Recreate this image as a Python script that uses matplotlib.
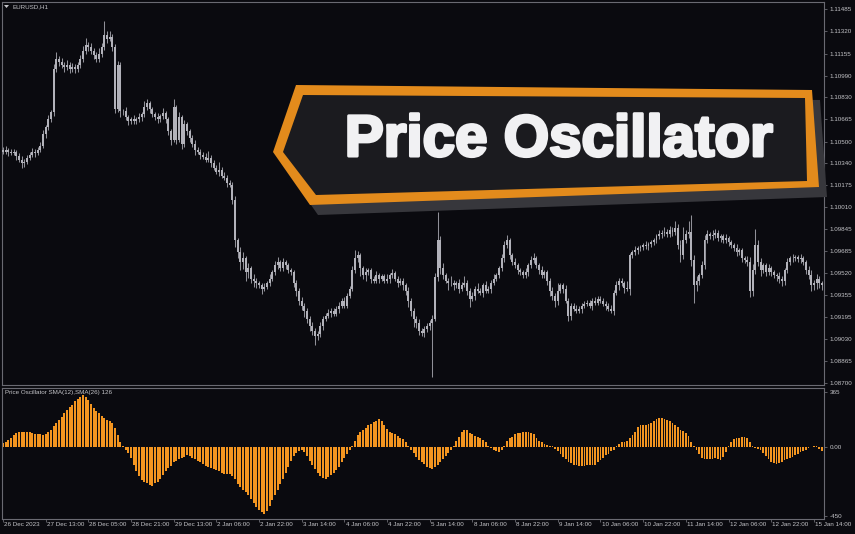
import matplotlib
matplotlib.use("Agg")
import matplotlib.pyplot as plt
from matplotlib.patches import Polygon
import matplotlib.patheffects as pe
import numpy as np

plt.rcParams['font.family'] = ['Liberation Sans', 'DejaVu Sans']

# ---------------- data ----------------
symbol_label = "EURUSD,H1"
osc_label = "Price Oscillator SMA(12),SMA(26) 126"
banner_text = "Price Oscillator"

first_open = 1.10440
closes = [
    1.10425, 1.10440, 1.10425, 1.10418, 1.10425, 1.10395, 1.10365, 1.10343, 1.10350, 1.10380,
    1.10403, 1.10425, 1.10418, 1.10440, 1.10470, 1.10553, 1.10605, 1.10665, 1.10718, 1.11040,
    1.11115, 1.11093, 1.11070, 1.11055, 1.11070, 1.11040, 1.11055, 1.11040, 1.11070, 1.11115,
    1.11175, 1.11220, 1.11205, 1.11175, 1.11145, 1.11115, 1.11153, 1.11205, 1.11295, 1.11265,
    1.11280, 1.11205, 1.10740, 1.11070, 1.10725, 1.10725, 1.10680, 1.10650, 1.10665, 1.10650,
    1.10665, 1.10680, 1.10703, 1.10755, 1.10785, 1.10740, 1.10703, 1.10680, 1.10665, 1.10688,
    1.10710, 1.10665, 1.10575, 1.10515, 1.10755, 1.10515, 1.10680, 1.10478, 1.10628, 1.10575,
    1.10530, 1.10478, 1.10440, 1.10425, 1.10400, 1.10388, 1.10365, 1.10380, 1.10343, 1.10305,
    1.10275, 1.10290, 1.10245, 1.10230, 1.10193, 1.10178, 1.10065, 1.09765, 1.09675, 1.09600,
    1.09630, 1.09525, 1.09555, 1.09480, 1.09465, 1.09443, 1.09428, 1.09405, 1.09420, 1.09443,
    1.09480, 1.09525, 1.09578, 1.09600, 1.09555, 1.09600, 1.09578, 1.09540, 1.09525, 1.09450,
    1.09390, 1.09315, 1.09278, 1.09240, 1.09180, 1.09128, 1.09090, 1.09053, 1.09068, 1.09128,
    1.09180, 1.09203, 1.09225, 1.09240, 1.09218, 1.09255, 1.09278, 1.09315, 1.09278, 1.09353,
    1.09405, 1.09540, 1.09630, 1.09653, 1.09555, 1.09503, 1.09525, 1.09540, 1.09480, 1.09465,
    1.09503, 1.09480, 1.09495, 1.09465, 1.09480, 1.09503, 1.09518, 1.09480, 1.09450, 1.09465,
    1.09428, 1.09390, 1.09315, 1.09240, 1.09180, 1.09150, 1.09090, 1.09075, 1.09105, 1.09128,
    1.09150, 1.09180, 1.09488, 1.09765, 1.09555, 1.09503, 1.09465, 1.09443, 1.09450, 1.09428,
    1.09443, 1.09405, 1.09435, 1.09450, 1.09390, 1.09330, 1.09353, 1.09405, 1.09390, 1.09375,
    1.09428, 1.09390, 1.09405, 1.09450, 1.09480, 1.09503, 1.09555, 1.09630, 1.09728, 1.09765,
    1.09653, 1.09600, 1.09578, 1.09540, 1.09525, 1.09503, 1.09525, 1.09578, 1.09615, 1.09630,
    1.09578, 1.09540, 1.09503, 1.09525, 1.09465, 1.09390, 1.09353, 1.09315, 1.09390, 1.09428,
    1.09405, 1.09315, 1.09203, 1.09278, 1.09255, 1.09240, 1.09255, 1.09278, 1.09293, 1.09300,
    1.09278, 1.09315, 1.09300, 1.09330, 1.09315, 1.09293, 1.09278, 1.09255, 1.09240, 1.09375,
    1.09428, 1.09465, 1.09443, 1.09413, 1.09405, 1.09653, 1.09675, 1.09690, 1.09705, 1.09713,
    1.09728, 1.09720, 1.09735, 1.09750, 1.09765, 1.09795, 1.09810, 1.09818, 1.09825, 1.09810,
    1.09840, 1.09825, 1.09855, 1.09728, 1.09653, 1.09765, 1.09810, 1.09825, 1.09615, 1.09428,
    1.09465, 1.09503, 1.09578, 1.09765, 1.09810, 1.09795, 1.09803, 1.09818, 1.09780, 1.09795,
    1.09765, 1.09780, 1.09750, 1.09728, 1.09705, 1.09675, 1.09690, 1.09630, 1.09615, 1.09600,
    1.09390, 1.09540, 1.09728, 1.09600, 1.09540, 1.09578, 1.09525, 1.09555, 1.09525, 1.09503,
    1.09495, 1.09480, 1.09465, 1.09540, 1.09600, 1.09630, 1.09630, 1.09638, 1.09623, 1.09630,
    1.09600, 1.09540, 1.09503, 1.09428, 1.09450, 1.09480, 1.09443, 1.09428,
]

# wick lengths beyond the body, in pips
wick_up = [
    2, 3, 1, 2, 2, 1, 2, 3, 2, 2,   2, 3, 2, 2, 3, 3, 2, 3, 2, 4,
    5, 2, 3, 2, 4, 2, 3, 2, 2, 3,   4, 5, 2, 3, 2, 2, 4, 3, 10, 3,
    4, 2, 2, 3, 2, 2, 3, 2, 2, 3,   2, 3, 2, 5, 3, 2, 2, 2, 3, 2,
    4, 2, 2, 2, 6, 2, 4, 2, 3, 2,   2, 2, 3, 2, 2, 2, 3, 5, 2, 2,
    2, 6, 2, 3, 2, 2, 2, 3, 2, 4,   5, 2, 4, 2, 3, 2, 2, 2, 3, 2,
    3, 2, 3, 4, 2, 3, 2, 2, 2, 2,   2, 2, 3, 2, 2, 2, 3, 2, 2, 3,
    2, 2, 3, 2, 2, 2, 3, 2, 3, 2,   2, 3, 6, 3, 2, 2, 3, 2, 2, 2,
    3, 2, 2, 2, 3, 2, 3, 2, 2, 2,   2, 2, 3, 2, 2, 2, 3, 2, 2, 2,
    2, 3, 3, 21, 3, 4, 2, 2, 5, 2,  2, 3, 2, 5, 2, 2, 3, 2, 4, 2,
    2, 3, 2, 2, 3, 2, 2, 3, 3, 4,   2, 2, 3, 2, 2, 2, 3, 2, 3, 4,
    2, 2, 3, 2, 2, 2, 3, 2, 6, 2,   2, 3, 2, 2, 2, 3, 2, 2, 2, 2,
    2, 2, 3, 2, 2, 2, 2, 2, 3, 2,   3, 2, 2, 2, 5, 2, 2, 3, 2, 2,
    2, 3, 2, 2, 2, 2, 3, 2, 4, 2,   3, 2, 5, 3, 4, 10, 3, 8, 13, 4,
    3, 2, 3, 4, 3, 2, 4, 3, 2, 2,   2, 3, 2, 2, 2, 3, 2, 2, 2, 3,
    4, 5, 12, 4, 3, 2, 2, 3, 2, 2,  2, 3, 2, 2, 3, 2, 3, 2, 2, 3,
    2, 2, 3, 4, 2, 3, 2, 2,
]
wick_dn = [
    2, 2, 3, 2, 2, 3, 2, 4, 3, 2,   2, 2, 3, 2, 2, 2, 3, 2, 2, 3,
    2, 3, 2, 4, 2, 3, 2, 3, 2, 2,   2, 2, 3, 2, 3, 2, 2, 2, 2, 3,
    2, 3, 3, 2, 4, 3, 2, 3, 2, 2,   2, 2, 3, 2, 2, 3, 2, 2, 3, 2,
    2, 3, 3, 4, 2, 3, 2, 3, 2, 3,   3, 2, 4, 2, 3, 2, 2, 2, 3, 2,
    2, 3, 2, 2, 3, 2, 3, 5, 4, 6,   5, 6, 4, 3, 5, 3, 2, 4, 2, 2,
    2, 2, 2, 3, 2, 2, 3, 2, 2, 3,   4, 3, 3, 5, 3, 4, 3, 7, 3, 2,
    3, 2, 2, 3, 2, 2, 3, 2, 2, 2,   2, 2, 2, 3, 6, 3, 4, 2, 3, 2,
    2, 3, 2, 2, 2, 3, 2, 2, 3, 2,   3, 3, 5, 4, 6, 4, 3, 2, 3, 2,
    3, 40, 2, 3, 4, 3, 2, 5, 2, 3,  2, 3, 2, 2, 3, 6, 2, 3, 2, 2,
    3, 2, 2, 3, 2, 2, 2, 2, 3, 2,   3, 2, 2, 3, 2, 2, 2, 3, 2, 2,
    2, 3, 2, 2, 3, 4, 3, 5, 3, 2,   3, 2, 4, 3, 2, 2, 2, 3, 2, 2,
    2, 3, 2, 2, 2, 2, 3, 2, 2, 3,   2, 3, 2, 4, 2, 5, 2, 2, 3, 2,
    2, 2, 3, 2, 2, 2, 2, 3, 2, 2,   2, 3, 2, 3, 5, 3, 2, 3, 4, 13,
    4, 3, 2, 3, 2, 2, 3, 2, 2, 3,   2, 2, 3, 2, 2, 3, 2, 3, 2, 3,
    5, 4, 3, 3, 4, 2, 3, 2, 3, 2,   3, 3, 4, 3, 2, 2, 3, 2, 2, 3,
    2, 3, 3, 4, 3, 5, 3, 3,
]

osc_values = [
    26, 32, 48, 63, 79, 93, 98, 101, 102, 101,
    97, 90, 87, 84, 84, 82, 87, 100, 116, 137,
    160, 180, 201, 222, 243, 264, 280, 301, 317, 333,
    343, 333, 312, 285, 259, 238, 222, 206, 190, 180,
    169, 158, 127, 79, 32, 11, -16, -37, -74, -116,
    -158, -190, -216, -227, -238, -248, -253, -238, -227, -206,
    -180, -158, -137, -121, -100, -90, -79, -74, -63, -53,
    -58, -69, -79, -90, -100, -111, -121, -127, -135, -143,
    -153, -158, -169, -174, -174, -177, -190, -211, -243, -264,
    -280, -296, -317, -338, -364, -391, -412, -428, -438, -417,
    -385, -348, -317, -280, -243, -206, -169, -127, -90, -58,
    -37, -26, -21, -32, -58, -90, -116, -143, -169, -190,
    -201, -206, -195, -185, -169, -153, -127, -100, -74, -48,
    -21, 5, 42, 79, 100, 116, 127, 143, 153, 164,
    174, 182, 174, 148, 121, 100, 95, 84, 74, 63,
    53, 32, 5, -16, -37, -63, -84, -100, -111, -127,
    -137, -143, -132, -116, -95, -79, -58, -37, -16, 5,
    42, 69, 100, 116, 111, 95, 84, 74, 69, 58,
    48, 32, 11, -5, -16, -26, -32, -21, 11, 42,
    58, 69, 84, 90, 95, 100, 102, 100, 95, 84,
    63, 42, 32, 21, 16, 11, 5, -11, -26, -42,
    -63, -79, -95, -106, -116, -118, -125, -125, -121, -114,
    -116, -118, -114, -100, -84, -69, -53, -42, -26, -16,
    5, 21, 32, 37, 42, 58, 79, 100, 132, 143,
    146, 148, 153, 158, 169, 182, 190, 192, 188, 180,
    169, 158, 148, 132, 116, 106, 95, 74, 37, 5,
    -21, -48, -69, -79, -79, -76, -76, -74, -76, -82,
    -63, -32, 11, 37, 53, 63, 61, 69, 69, 63,
    37, 11, -5, -11, -21, -37, -58, -79, -95, -106,
    -111, -106, -95, -84, -79, -74, -63, -53, -42, -32,
    -26, -16, -8, 3, 8, 5, -11, -26,
]

price_ticks = [1.11485, 1.11320, 1.11155, 1.10990, 1.10830, 1.10665, 1.10500, 1.10340, 1.10175,
               1.10010, 1.09845, 1.09685, 1.09520, 1.09355, 1.09195, 1.09030, 1.08865, 1.08700]
osc_ticks = [365, 0, -450]
osc_tick_labels = ["365", "0.00", "-450"]
time_labels = ["26 Dec 2023", "27 Dec 13:00", "28 Dec 05:00", "28 Dec 21:00", "29 Dec 13:00",
               "2 Jan 06:00", "2 Jan 22:00", "3 Jan 14:00", "4 Jan 06:00", "4 Jan 22:00",
               "5 Jan 14:00", "8 Jan 06:00", "8 Jan 22:00", "9 Jan 14:00", "10 Jan 06:00",
               "10 Jan 22:00", "11 Jan 14:00", "12 Jan 06:00", "12 Jan 22:00", "15 Jan 14:00"]
time_label_bars = [0, 16, 32, 48, 64, 80, 96, 112, 128, 144,
                   160, 176, 192, 208, 224, 240, 256, 272, 288, 304]

# ---------------- style ----------------
W, H = 855, 534
BG = '#0a0a0f'
FRAME = '#6a6a72'
TXT = '#c4c4c8'
CANDLE = '#b2b2ba'
WICK = '#909098'
HIST = '#f39520'
FS = 4.5

fig = plt.figure(figsize=(W / 100, H / 100), dpi=100, facecolor=BG)


def box(l, t, r, b):
    return [l / W, 1 - b / H, (r - l) / W, (b - t) / H]


x = np.arange(len(closes))
c = np.array(closes)
o = np.array([first_open] + closes[:-1])
hi = np.maximum(o, c) + np.array(wick_up) * 1e-4
lo = np.minimum(o, c) - np.array(wick_dn) * 1e-4

# main price panel
ax = fig.add_axes(box(2, 2, 824, 385))
ax.set_facecolor(BG)
ax.vlines(x, lo, hi, color=WICK, lw=0.75, zorder=2)
ax.bar(x, np.maximum(np.abs(c - o), 0.00003), bottom=np.minimum(o, c), width=0.74,
       color=CANDLE, edgecolor='none', zorder=3)
ax.set_xlim(-0.375, 307.8)
ax.set_ylim(1.08687, 1.11539)
ax.set_yticks(price_ticks)
ax.set_yticklabels([f"{p:.5f}" for p in price_ticks])
ax.yaxis.tick_right()
ax.tick_params(axis='y', length=2.5, width=0.6, color=FRAME, labelsize=FS,
               labelcolor=TXT, pad=1.5)
ax.set_xticks([])
for s in ax.spines.values():
    s.set_color(FRAME)
    s.set_linewidth(0.8)

# oscillator panel
ax2 = fig.add_axes(box(2, 388, 824, 519))
ax2.set_facecolor(BG)
ax2.bar(x, osc_values, width=0.72, color=HIST, edgecolor='none')
ax2.set_xlim(-0.375, 307.8)
ax2.set_ylim(-472, 389)
ax2.set_yticks(osc_ticks)
ax2.set_yticklabels(osc_tick_labels)
ax2.yaxis.tick_right()
ax2.tick_params(axis='y', length=2.5, width=0.6, color=FRAME, labelsize=FS,
                labelcolor=TXT, pad=1.5)
ax2.set_xticks(time_label_bars)
ax2.set_xticklabels([])
ax2.tick_params(axis='x', length=2.5, width=0.6, color=FRAME)
for s in ax2.spines.values():
    s.set_color(FRAME)
    s.set_linewidth(0.8)
for b, lab in zip(time_label_bars, time_labels):
    ax2.annotate(lab, xy=(b, 0), xycoords=('data', 'axes fraction'),
                 xytext=(0.8, -2.2), textcoords='offset points',
                 ha='left', va='top', fontsize=FS, color=TXT)
ax2.text(0.004, 0.985, osc_label, transform=ax2.transAxes, ha='left', va='top',
         fontsize=FS, color=TXT)

# overlay (title + banner)
ov = fig.add_axes([0, 0, 1, 1])
ov.set_xlim(0, W)
ov.set_ylim(H, 0)
ov.axis('off')
ov.patch.set_alpha(0)
ov.add_patch(Polygon([(4, 5), (9, 5), (6.5, 8)], closed=True, color=TXT, lw=0))
ov.text(12, 6.5, symbol_label, ha='left', va='center', fontsize=FS, color=TXT)

outer = [(273, 152), (296, 85), (812, 90), (819, 187), (310, 205)]
shadow = [(px + 8, py + 10) for px, py in outer]
inner = [(283, 152), (303, 95), (805, 98), (807, 181), (316, 195)]
ov.add_patch(Polygon(shadow, closed=True, facecolor='#37373c', edgecolor='none'))
ov.add_patch(Polygon(outer, closed=True, facecolor='#e38b1c', edgecolor='none'))
ov.add_patch(Polygon(inner, closed=True, facecolor='#1b1b1f', edgecolor='none'))
ov.text(559, 141, banner_text, ha='center', va='center', fontsize=42,
        fontweight='bold', color='#f1f1f3',
        path_effects=[pe.withStroke(linewidth=2.2, foreground='#f1f1f3')])

fig.savefig('out.png', dpi=100, facecolor=BG)
